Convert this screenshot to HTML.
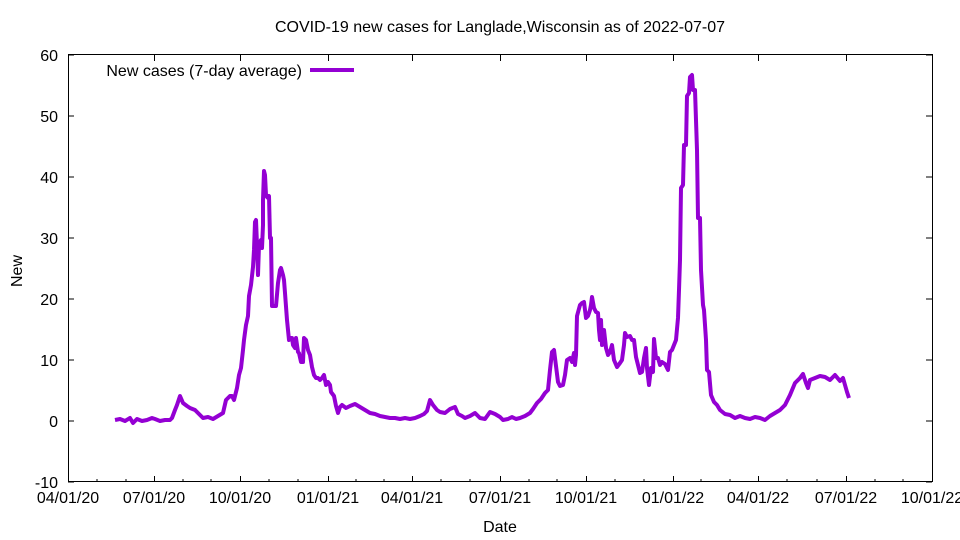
<!DOCTYPE html>
<html><head><meta charset="utf-8"><style>body{margin:0;background:#fff}svg{display:block}text{font-family:"Liberation Sans",sans-serif;font-size:16px;fill:#000}</style></head><body>
<svg width="960" height="540" viewBox="0 0 960 540" xmlns="http://www.w3.org/2000/svg">
<rect width="960" height="540" fill="#fff"/>
<text x="500" y="32" text-anchor="middle">COVID-19 new cases for Langlade,Wisconsin as of 2022-07-07</text>
<g stroke="#000" stroke-width="1" fill="none">
<rect x="68.5" y="54.5" width="864" height="427"/>
<path d="M68 482h6M932 482h-6M68 421h6M932 421h-6M68 360h6M932 360h-6M68 299h6M932 299h-6M68 238h6M932 238h-6M68 177h6M932 177h-6M68 116h6M932 116h-6M68 55h6M932 55h-6"/>
<path d="M68.5 482v-6M68.5 55v6M154.5 482v-6M154.5 55v6M240.5 482v-6M240.5 55v6M328.5 482v-6M328.5 55v6M412.5 482v-6M412.5 55v6M500.5 482v-6M500.5 55v6M586.5 482v-6M586.5 55v6M673.5 482v-6M673.5 55v6M758.5 482v-6M758.5 55v6M846.5 482v-6M846.5 55v6"/>
<path d="M97 482v-3M126 482v-3M183 482v-3M211 482v-3M269 482v-3M298 482v-3M356 482v-3M384 482v-3M441 482v-3M470 482v-3M529 482v-3M557 482v-3M615 482v-3M644 482v-3M701 482v-3M730 482v-3M787 482v-3M817 482v-3M875 482v-3M903 482v-3"/>
</g>
<g text-anchor="end">
<text x="58" y="488">-10</text><text x="58" y="427">0</text><text x="58" y="366">10</text><text x="58" y="305">20</text><text x="58" y="244">30</text><text x="58" y="183">40</text><text x="58" y="122">50</text><text x="58" y="61">60</text>
</g>
<g text-anchor="middle">
<text x="68" y="503">04/01/20</text><text x="154" y="503">07/01/20</text><text x="240" y="503">10/01/20</text><text x="328" y="503">01/01/21</text><text x="412" y="503">04/01/21</text><text x="500" y="503">07/01/21</text><text x="586" y="503">10/01/21</text><text x="673" y="503">01/01/22</text><text x="758" y="503">04/01/22</text><text x="846" y="503">07/01/22</text><text x="932" y="503">10/01/22</text>
<text x="500" y="532">Date</text>
<text x="0" y="0" transform="translate(22,271) rotate(-90)">New</text>
</g>
<text x="302" y="76" text-anchor="end">New cases (7-day average)</text>
<path d="M310 70H354" stroke="#9400d3" stroke-width="4"/>
<polyline fill="none" stroke="#9400d3" stroke-width="4" stroke-linejoin="round" points="115,420 120,419 125,421 130,418 133,423 137,419 142,421 147,420 152,418 155,419 160,421 165,420 170,420 172,418 175,410 177,405 180,396 183,403 187,406 190,408 195,410 200,415 203,418 208,417 213,419 218,416 223,413 226,400 230,396 232,396 234,400 237,388 239,375 241,368 243,350 244,340 246,325 248,316 249,296 251,285 253,267 254,250 255,222 256,220 257,245 258,275 259,245 261,240 262,248 263,225 263,200 264,171 265,175 266,195 267,197 268,198 269,196 270,238 271,238 272,306 274,306 276,306 278,283 280,270 281,268 283,275 284,280 285,293 287,320 289,340 290,338 292,338 293,345 295,348 296,338 298,352 299,353 301,362 303,362 304,338 306,340 308,350 310,355 312,367 314,375 316,378 318,378 320,380 322,378 324,375 326,385 328,382 330,385 331,392 334,396 336,406 338,413 340,407 342,405 346,408 350,406 355,404 360,407 365,410 370,413 375,414 380,416 385,417 390,418 395,418 400,419 405,418 410,419 415,418 420,416 424,414 427,411 430,400 433,405 437,410 440,412 445,413 450,409 455,407 458,414 462,416 465,418 470,416 475,413 480,418 485,419 490,412 495,414 500,417 503,420 508,419 512,417 516,419 520,418 525,416 530,413 533,409 537,403 541,399 545,393 548,390 550,370 552,352 554,350 556,366 558,382 560,386 563,385 565,375 567,360 570,358 572,362 574,353 575,365 576,355 577,316 580,305 582,303 584,302 586,318 588,316 590,310 591,305 592,297 594,308 596,312 598,313 599,330 600,340 601,320 602,345 604,330 606,348 608,355 610,352 612,345 614,360 617,367 620,363 622,360 624,345 625,333 627,337 630,336 632,340 634,340 636,357 638,365 640,373 642,372 644,358 646,348 647,368 649,385 651,368 653,372 654,339 656,358 658,358 660,365 662,362 665,364 668,370 670,352 672,350 676,340 678,318 679,290 680,260 681,188 683,185 684,145 686,145 687,96 689,93 690,77 692,75 693,90 695,90 697,150 698,218 700,218 701,270 703,305 704,310 706,340 707,370 709,372 711,395 714,402 717,405 720,410 725,414 730,415 735,418 740,416 745,418 750,419 755,417 760,418 765,420 770,416 775,413 780,410 785,405 790,395 795,383 800,378 803,374 806,383 808,388 810,380 815,378 820,376 825,377 830,380 835,375 840,381 843,378 845,385 847,392 849,398"/>
</svg>
</body></html>
